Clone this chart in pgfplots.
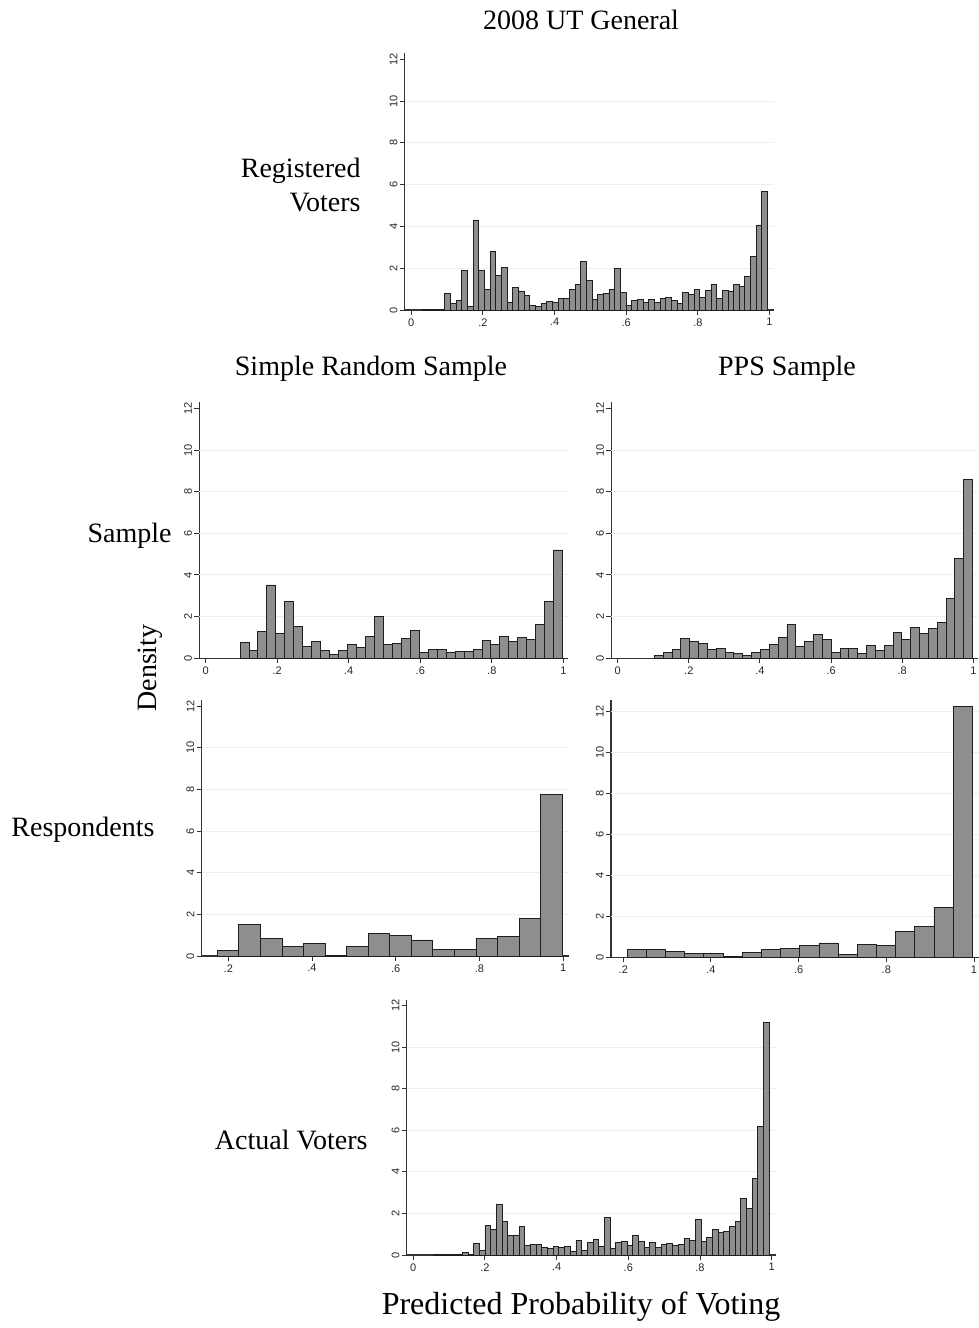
\documentclass[border=0pt]{standalone}
\usepackage{fontspec}
\setmainfont{Liberation Serif}
\newfontfamily\ticksans{Liberation Sans}
\usepackage{pgfplots}
\pgfplotsset{compat=1.18}

\definecolor{barfill}{RGB}{142,142,142}
\definecolor{barline}{RGB}{30,30,30}
\definecolor{gridcol}{RGB}{232,240,241}
\definecolor{axcol}{RGB}{50,50,50}

\newcommand{\lab}{\fontsize{14}{17}\selectfont}

\pgfplotsset{
  panel/.style={
    scale only axis, enlargelimits=false,
    axis x line*=bottom, axis y line*=left,
    axis line style={draw=axcol, line width=0.6pt},
    tick align=outside, major tick length=2.5pt,
    tick style={draw=axcol, line width=0.5pt},
    ymin=0, ymax=12.3,
    ytick={0,2,4,6,8,10,12}, yticklabels={0,2,4,6,8,10,12},
    xtick={0,0.2,0.4,0.6,0.8,1}, xticklabels={0,.2,.4,.6,.8,1},
    extra y ticks={2,4,6,8,10}, extra y tick labels={},
    extra y tick style={grid=major, major tick length=0pt},
    grid style={draw=gridcol, line width=0.5pt},
    tick label style={font=\ticksans\fontsize{5.5}{6}\selectfont, text=black!85},
    yticklabel style={rotate=90, anchor=south, inner sep=1pt},
    xticklabel style={inner sep=1.5pt},
  },
  bars/.style={ybar interval, fill=barfill, draw=barline, line width=0.45pt},
}

\begin{document}
\begin{tikzpicture}
\useasboundingbox (0,0) rectangle (489.5pt,-664pt);

% Registered voters
\begin{axis}[panel, at={(202.4pt,-155pt)}, anchor=south west,
  width=184.5pt, height=128.5pt, xmin=-0.018, xmax=1.012]
\addplot[bars] coordinates {
(0.0308,0.03)(0.0466,0.03)(0.0624,0.03)(0.0782,0.03)(0.0940,0.80)
(0.1098,0.30)(0.1256,0.48)(0.1414,1.88)(0.1572,0.19)(0.1730,4.31)
(0.1888,1.88)(0.2046,0.96)(0.2204,2.78)(0.2362,1.64)(0.2520,2.04)
(0.2678,0.37)(0.2836,1.08)(0.2994,0.91)(0.3152,0.70)(0.3310,0.21)
(0.3468,0.16)(0.3626,0.30)(0.3784,0.41)(0.3942,0.37)(0.4100,0.56)
(0.4258,0.56)(0.4416,0.96)(0.4574,1.20)(0.4732,2.34)(0.4890,1.40)
(0.5048,0.51)(0.5206,0.75)(0.5364,0.80)(0.5522,0.99)(0.5680,2.00)
(0.5838,0.85)(0.5996,0.21)(0.6154,0.45)(0.6312,0.51)(0.6470,0.36)
(0.6628,0.51)(0.6786,0.37)(0.6944,0.56)(0.7102,0.61)(0.7260,0.45)
(0.7418,0.30)(0.7576,0.85)(0.7734,0.75)(0.7892,0.99)(0.8050,0.61)
(0.8208,0.94)(0.8366,1.24)(0.8524,0.56)(0.8682,0.94)(0.8840,0.90)
(0.8998,1.20)(0.9156,1.14)(0.9314,1.60)(0.9472,2.58)(0.9630,4.07)
(0.9788,5.67)(0.9946,0)
};
\end{axis}

% SRS sample
\begin{axis}[panel, at={(99.65pt,-329.15pt)}, anchor=south west,
  width=184.15pt, height=128.1pt, xmin=-0.018, xmax=1.012]
\addplot[bars] coordinates {
(0.0959,0.77)(0.1210,0.38)(0.1460,1.28)(0.1711,3.52)(0.1961,1.17)
(0.2212,2.72)(0.2463,1.54)(0.2713,0.57)(0.2964,0.82)(0.3214,0.38)
(0.3465,0.19)(0.3716,0.38)(0.3966,0.68)(0.4217,0.53)(0.4467,1.07)
(0.4718,2.02)(0.4969,0.68)(0.5219,0.72)(0.5470,0.96)(0.5720,1.33)
(0.5971,0.28)(0.6222,0.42)(0.6472,0.42)(0.6723,0.28)(0.6973,0.33)
(0.7224,0.33)(0.7475,0.42)(0.7725,0.87)(0.7976,0.67)(0.8226,1.07)
(0.8477,0.82)(0.8728,1.02)(0.8978,0.91)(0.9229,1.63)(0.9479,2.72)
(0.9730,5.20)(0.9981,0)
};
\end{axis}

% PPS sample
\begin{axis}[panel, at={(305.65pt,-329.15pt)}, anchor=south west,
  width=183.15pt, height=128.1pt, xmin=-0.018, xmax=1.012]
\addplot[bars] coordinates {
(0.1030,0.13)(0.1279,0.29)(0.1527,0.43)(0.1776,0.96)(0.2024,0.82)
(0.2273,0.72)(0.2522,0.43)(0.2770,0.48)(0.3019,0.29)(0.3267,0.24)
(0.3516,0.13)(0.3765,0.29)(0.4013,0.43)(0.4262,0.67)(0.4510,1.02)
(0.4759,1.63)(0.5008,0.58)(0.5256,0.82)(0.5505,1.13)(0.5753,0.91)
(0.6002,0.29)(0.6251,0.48)(0.6499,0.48)(0.6748,0.23)(0.6996,0.63)
(0.7245,0.38)(0.7494,0.63)(0.7742,1.23)(0.7991,0.91)(0.8239,1.49)
(0.8488,1.17)(0.8737,1.42)(0.8985,1.73)(0.9234,2.88)(0.9482,4.80)
(0.9731,8.59)(0.9980,0)
};
\end{axis}

% SRS respondents
\begin{axis}[panel, at={(100.85pt,-478pt)}, anchor=south west,
  width=183.6pt, height=128.1pt, xmin=0.1365, xmax=1.0136,
  xtick={0.2,0.4,0.6,0.8,1}, xticklabels={.2,.4,.6,.8,1}]
\addplot[bars] coordinates {
(0.1737,0.27)(0.2252,1.52)(0.2767,0.86)(0.3282,0.46)(0.3797,0.61)
(0.4312,0.03)(0.4827,0.46)(0.5342,1.07)(0.5857,0.99)(0.6372,0.77)
(0.6887,0.30)(0.7402,0.30)(0.7917,0.86)(0.8432,0.93)(0.8947,1.81)
(0.9462,7.76)(0.9977,0)
};
\end{axis}

% PPS respondents
\begin{axis}[panel, at={(305.5pt,-478.65pt)}, anchor=south west,
  width=184pt, height=128.65pt, xmin=0.172, xmax=1.0114, ymax=12.57,
  xtick={0.2,0.4,0.6,0.8,1}, xticklabels={.2,.4,.6,.8,1},
  extra y ticks={2,4,6,8,10,12}]
\addplot[bars] coordinates {
(0.2090,0.39)(0.2527,0.39)(0.2965,0.29)(0.3402,0.20)(0.3839,0.20)
(0.4277,0.05)(0.4714,0.24)(0.5151,0.39)(0.5588,0.44)(0.6026,0.60)
(0.6463,0.70)(0.6900,0.15)(0.7338,0.65)(0.7775,0.60)(0.8212,1.27)
(0.8650,1.51)(0.9087,2.43)(0.9524,12.25)(0.9961,0)
};
\end{axis}

% Actual voters
\begin{axis}[panel, at={(203.4pt,-627.5pt)}, anchor=south west,
  width=184.6pt, height=127.75pt, xmin=-0.018, xmax=1.012]
\addplot[bars] coordinates {
(0.0574,0.02)(0.0733,0.02)(0.0891,0.02)(0.1050,0.02)(0.1208,0.02)
(0.1367,0.11)(0.1526,0.02)(0.1684,0.55)(0.1843,0.24)(0.2001,1.44)
(0.2160,1.24)(0.2319,2.44)(0.2477,1.60)(0.2636,0.93)(0.2794,0.93)
(0.2953,1.38)(0.3112,0.45)(0.3270,0.50)(0.3429,0.50)(0.3587,0.35)
(0.3746,0.30)(0.3905,0.40)(0.4063,0.35)(0.4222,0.40)(0.4380,0.16)
(0.4539,0.70)(0.4698,0.24)(0.4856,0.60)(0.5015,0.75)(0.5173,0.40)
(0.5332,1.80)(0.5491,0.30)(0.5649,0.60)(0.5808,0.65)(0.5966,0.45)
(0.6125,0.95)(0.6284,0.65)(0.6442,0.35)(0.6601,0.60)(0.6759,0.35)
(0.6918,0.50)(0.7077,0.55)(0.7235,0.45)(0.7394,0.50)(0.7552,0.80)
(0.7711,0.70)(0.7870,1.70)(0.8028,0.65)(0.8187,0.85)(0.8345,1.24)
(0.8504,1.10)(0.8663,1.15)(0.8821,1.38)(0.8980,1.60)(0.9138,2.73)
(0.9297,2.25)(0.9456,3.68)(0.9614,6.18)(0.9773,11.19)(0.9931,0)
};
\end{axis}

% titles and row labels
\node[font=\lab] at (290.5pt,-10pt) {2008 UT General};
\node[font=\lab, align=right, anchor=east, inner sep=0pt] at (180.5pt,-92.5pt) {Registered\\Voters};
\node[font=\lab] at (185.5pt,-184.5pt) {Simple Random Sample};
\node[font=\lab] at (393.5pt,-184.5pt) {PPS Sample};
\node[font=\lab, anchor=east, inner sep=0pt] at (86pt,-268pt) {Sample};
\node[font=\lab, rotate=90] at (75pt,-334pt) {Density};
\node[font=\lab, anchor=east, inner sep=0pt] at (77.5pt,-415pt) {Respondents};
\node[font=\lab, anchor=east, inner sep=0pt] at (184pt,-570pt) {Actual Voters};
\node[font=\fontsize{16}{19}\selectfont] at (290.5pt,-653.5pt) {Predicted Probability of Voting};
\end{tikzpicture}
\end{document}
